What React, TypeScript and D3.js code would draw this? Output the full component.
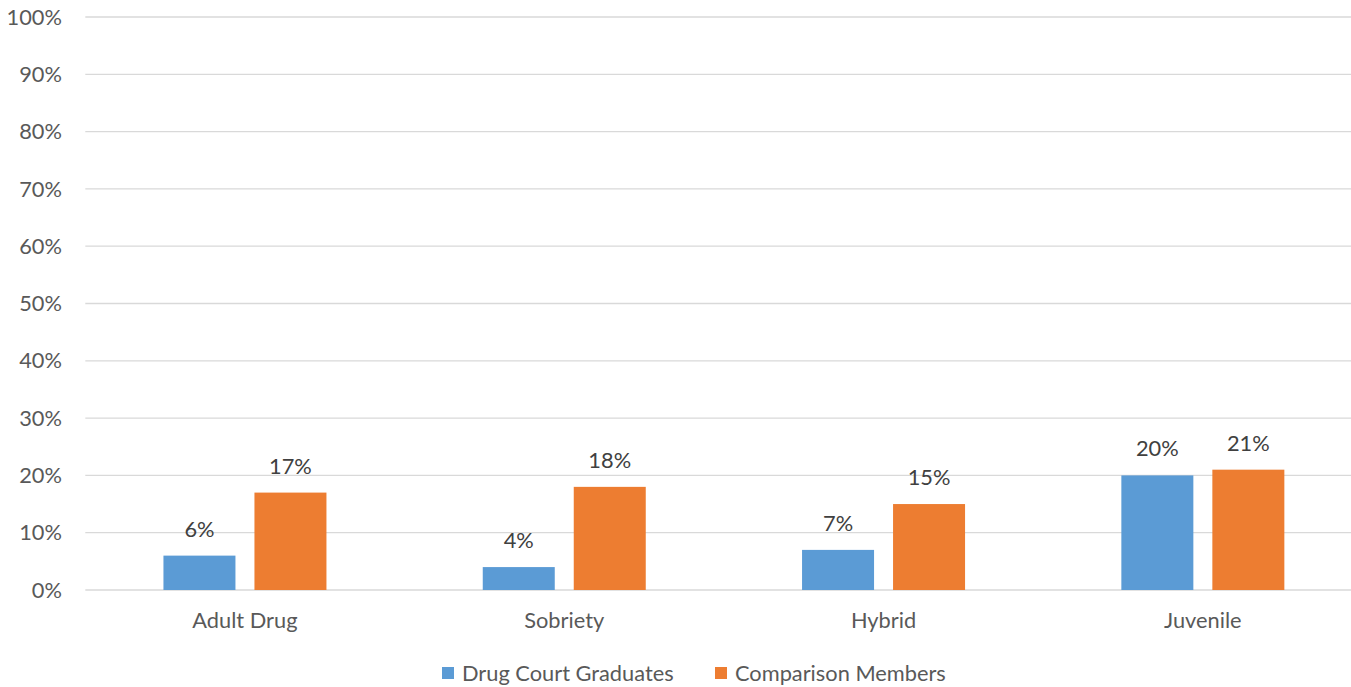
import React from "react";
import * as d3 from "d3";

const categories = ["Adult Drug", "Sobriety", "Hybrid", "Juvenile"];
const seriesNames = ["Drug Court Graduates", "Comparison Members"];
const graduates = [6, 4, 7, 20];
const comparison = [17, 18, 15, 21];
const yTicks = [0, 10, 20, 30, 40, 50, 60, 70, 80, 90, 100];
const colors = ["#5b9bd5", "#ed7d31"];

const W = 1351;
const H = 687;
const FONT = "Lato, 'Open Sans', sans-serif";
const FS = 21.8;

export default function App() {
  const left = 85.3;
  const right = 1362.5;
  const top = 17;
  const bottom = 590;

  const x = d3.scaleBand<string>().domain(categories).range([left, right]).paddingInner(0).paddingOuter(0);
  const y = d3.scaleLinear().domain([0, 100]).range([bottom, top]);
  const step = x.bandwidth();
  const barW = 72;
  const gap = 19;
  const groupW = barW * 2 + gap;
  const series = [graduates, comparison];

  return (
    <svg width={W} height={H} style={{ position: "absolute", left: 0, top: 0, background: "#fff" }} fontFamily={FONT}>
      <rect x={0} y={0} width={W} height={H} fill="#fff" />
      {yTicks.map((t) => (
        <g key={t}>
          <line x1={left} x2={right} y1={y(t)} y2={y(t)} stroke="#d9d9d9" strokeWidth={1.3} />
          <text x={62} y={y(t)} dy="0.35em" textAnchor="end" fontSize={FS} fill="#595959">
            {t}%
          </text>
        </g>
      ))}
      {categories.map((c, i) => {
        const g0 = (x(c) as number) + (step - groupW) / 2;
        return (
          <g key={c}>
            {series.map((s, k) => {
              const bx = g0 + k * (barW + gap);
              const v = s[i];
              return (
                <g key={k}>
                  <rect x={bx} y={y(v)} width={barW} height={y(0) - y(v)} fill={colors[k]} />
                  <text x={bx + barW / 2} y={y(v) - 19} textAnchor="middle" fontSize={FS} fill="#404040">
                    {v}%
                  </text>
                </g>
              );
            })}
            <text x={(x(c) as number) + step / 2} y={628} textAnchor="middle" fontSize={FS} fill="#595959">
              {c}
            </text>
          </g>
        );
      })}
      {[442, 715].map((lx, k) => (
        <g key={k}>
          <rect x={lx} y={667} width={12} height={12} fill={colors[k]} />
          <text x={lx + 20} y={681} fontSize={FS} fill="#595959">
            {seriesNames[k]}
          </text>
        </g>
      ))}
    </svg>
  );
}
